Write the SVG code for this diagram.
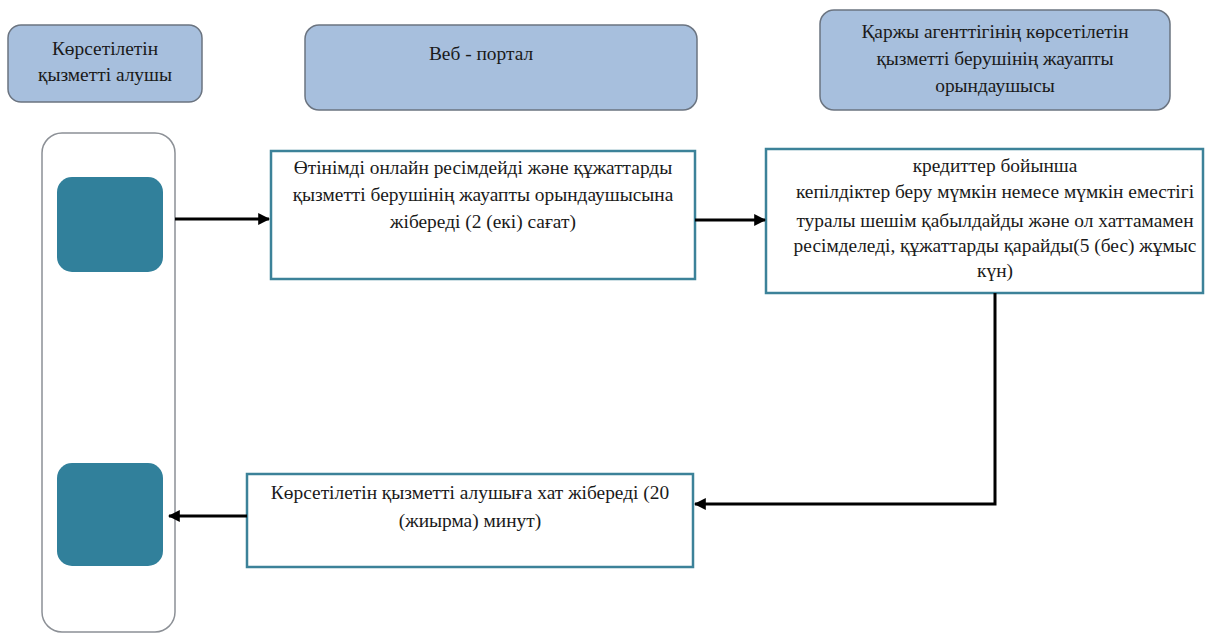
<svg xmlns="http://www.w3.org/2000/svg" width="1216" height="635" viewBox="0 0 1216 635" font-family="Liberation Serif, serif">
<defs>
<style>
.hdr{fill:#a7bfdd;stroke:#6b7480;stroke-width:1.5}
.box{fill:#ffffff;stroke:#3c8299;stroke-width:2.5}
.lane{fill:#ffffff;stroke:#8c9096;stroke-width:1.5}
.teal{fill:#31809b;stroke:none}
.t{font-size:19.4px;fill:#1a1a1a;text-anchor:middle}
.c{fill:none;stroke:#000;stroke-width:3}
</style>
<marker id="ah" viewBox="0 0 10 10" refX="9" refY="5" markerWidth="4" markerHeight="4" orient="auto" markerUnits="strokeWidth">
<path d="M0,0 L10,5 L0,10 Z" fill="#000"/>
</marker>
</defs>
<rect width="1216" height="635" fill="#ffffff"/>
<g id="header-recipient">
<rect class="hdr" x="8" y="25" width="194" height="77" rx="13"/>
<text class="t" x="105" y="55">Көрсетілетін</text>
<text class="t" x="105" y="81">қызметті алушы</text>
</g>
<g id="header-portal">
<rect class="hdr" x="305" y="25" width="392" height="85" rx="14"/>
<text class="t" x="481" y="60">Веб - портал</text>
</g>
<g id="header-agency">
<rect class="hdr" x="820" y="10" width="350" height="100" rx="14"/>
<text class="t" x="995" y="38">Қаржы агенттігінің көрсетілетін</text>
<text class="t" x="995" y="65">қызметті берушінің жауапты</text>
<text class="t" x="995" y="92">орындаушысы</text>
</g>
<g id="lane">
<rect class="lane" x="42" y="133" width="133" height="499" rx="20"/>
</g>
<g id="start">
<rect class="teal" x="57" y="177" width="106" height="95" rx="15"/>
</g>
<g id="end">
<rect class="teal" x="57" y="463" width="106" height="103" rx="15"/>
</g>
<g id="step1">
<rect class="box" x="271" y="151" width="424" height="128"/>
<text class="t" x="483" y="174">Өтінімді онлайн ресімдейді және құжаттарды</text>
<text class="t" x="483" y="201">қызметті берушінің жауапты орындаушысына</text>
<text class="t" x="483" y="228">жібереді (2 (екі) сағат)</text>
</g>
<g id="step2">
<rect class="box" x="766" y="149" width="437" height="144"/>
<text class="t" x="995" y="172">кредиттер бойынша</text>
<text class="t" x="995" y="198">кепілдіктер беру мүмкін немесе мүмкін еместігі</text>
<text class="t" x="995" y="227">туралы шешім қабылдайды және ол хаттамамен</text>
<text class="t" x="995" y="252">ресімделеді, құжаттарды қарайды(5 (бес) жұмыс</text>
<text class="t" x="995" y="277">күн)</text>
</g>
<g id="step3">
<rect class="box" x="247" y="474" width="446" height="93"/>
<text class="t" x="470" y="499">Көрсетілетін қызметті алушыға хат жібереді (20</text>
<text class="t" x="470" y="527">(жиырма) минут)</text>
</g>
<g id="connectors">
<line class="c" x1="175" y1="219" x2="269" y2="219" marker-end="url(#ah)"/>
<line class="c" x1="695" y1="220" x2="765" y2="220" marker-end="url(#ah)"/>
<polyline class="c" points="995,293 995,504 695,504" marker-end="url(#ah)"/>
<line class="c" x1="247" y1="516" x2="169" y2="516" marker-end="url(#ah)"/>
</g>
</svg>
